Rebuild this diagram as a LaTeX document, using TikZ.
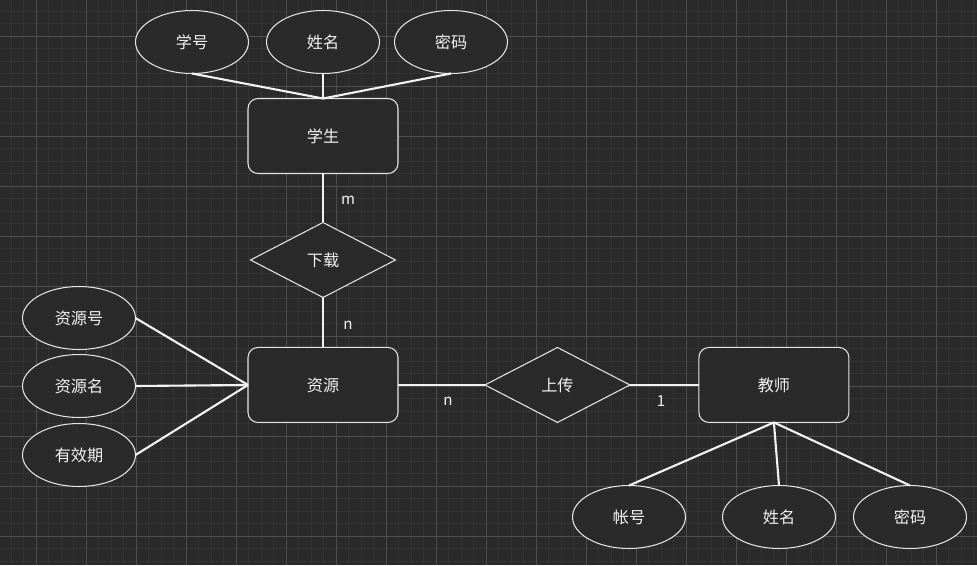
\documentclass[tikz,border=0pt]{standalone}
\usepackage{fontspec}
\setmainfont{Noto Sans CJK SC}
\usetikzlibrary{shapes.geometric,positioning}
\definecolor{canvas}{HTML}{2A2A2A}
\definecolor{minorgrid}{HTML}{343434}
\definecolor{majorgrid}{HTML}{4E4E4E}
\definecolor{edgecol}{HTML}{E4E4E4}
\definecolor{linkcol}{HTML}{F2F2F2}

\begin{document}
\begin{tikzpicture}[
      x=0.02cm, y=-0.02cm,
      font=\fontsize{9.2}{11}\selectfont,
      entity/.style={rectangle, draw=edgecol, fill=canvas, text=linkcol, line width=0.6pt, minimum width=3cm, minimum height=1.5cm, rounded corners=0.2cm, outer sep=0pt},
      relation/.style={diamond, draw=edgecol, fill=canvas, text=linkcol, line width=0.6pt, minimum width=2.9cm, minimum height=1.5cm, inner sep=0pt, outer sep=0pt},
      attr/.style={ellipse, draw=edgecol, fill=canvas, text=linkcol, line width=0.6pt, minimum width=2.26cm, minimum height=1.26cm, inner sep=0pt, outer sep=0pt},
      link/.style={draw=linkcol, line width=1.2pt},
      card/.style={text=linkcol, font=\fontsize{8.6}{10}\selectfont}
    ]
      % canvas and grid
      \path[use as bounding box, fill=canvas] (0,0) rectangle (977,565);
      \foreach \g in {11,23.5,...,977} \draw[minorgrid, line width=0.5pt] (\g,0) -- (\g,565);
      \foreach \g in {11,23.5,...,565} \draw[minorgrid, line width=0.5pt] (0,\g) -- (977,\g);
      \foreach \g in {36,86,...,977} \draw[majorgrid, line width=0.5pt] (\g,0) -- (\g,565);
      \foreach \g in {36,86,...,565} \draw[majorgrid, line width=0.5pt] (0,\g) -- (977,\g);

      % entities and relations
      \node[entity] (student) at (323,136) {学生};
      \node[relation, below=0.98cm of student] (download) {下载};
      \node[entity, below=1cm of download] (resource) {资源};
      \node[relation, right=1.74cm of resource] (upload) {上传};
      \node[entity, right=1.38cm of upload] (teacher) {教师};

      % attributes
      \node[attr] (sno) at (192,42) {学号};
      \node[attr] (sname) at (323,42) {姓名};
      \node[attr] (spwd) at (451,42) {密码};
      \node[attr] (rno) at (79,318) {资源号};
      \node[attr] (rname) at (79,386) {资源名};
      \node[attr] (rdate) at (79,455) {有效期};
      \node[attr] (tno) at (629,517) {帐号};
      \node[attr] (tname) at (779,517) {姓名};
      \node[attr] (tpwd) at (910,517) {密码};

      \draw[link] (sno.south) -- (student.north);
      \draw[link] (sname.south) -- (student.north);
      \draw[link] (spwd.south) -- (student.north);
      \draw[link] (rno.east) -- (resource.west);
      \draw[link] (rname.east) -- (resource.west);
      \draw[link] (rdate.east) -- (resource.west);
      \draw[link] (teacher.south) -- (tno.north);
      \draw[link] (teacher.south) -- (tname.north);
      \draw[link] (teacher.south) -- (tpwd.north);

      \draw[link] (student) -- node[card, xshift=0.5cm, yshift=-0.05cm] {m} (download);
      \draw[link] (download) -- node[card, xshift=0.5cm, yshift=-0.05cm] {n} (resource);
      \draw[link] (resource) -- node[card, xshift=0.13cm, yshift=-0.32cm] {n} (upload);
      \draw[link] (upload) -- node[card, xshift=-0.07cm, yshift=-0.32cm] {1} (teacher);
    \end{tikzpicture}
\end{document}
